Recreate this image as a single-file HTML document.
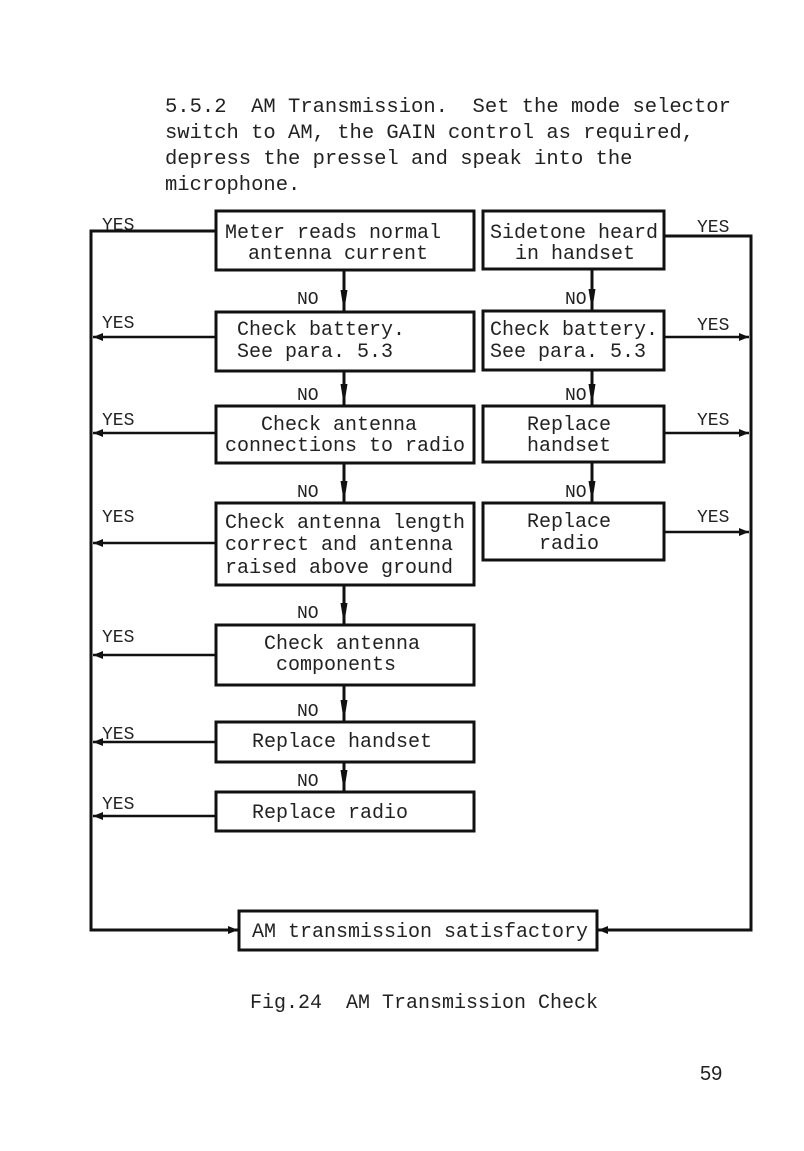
<!DOCTYPE html>
<html><head><meta charset="utf-8"><style>
html,body{margin:0;padding:0;background:#fff;}
svg{display:block}
text{font-family:"Liberation Mono",monospace;fill:#222;white-space:pre;}
</style></head><body>
<svg width="804" height="1151" viewBox="0 0 804 1151" xmlns="http://www.w3.org/2000/svg" xml:space="preserve">
<defs>
<marker id="a" markerWidth="10" markerHeight="8" refX="10" refY="4" orient="auto" markerUnits="userSpaceOnUse">
<path d="M0,0 L10,4 L0,8 Z" fill="#111"/></marker>
<marker id="d" markerWidth="22" markerHeight="8" refX="22" refY="4" orient="auto" markerUnits="userSpaceOnUse">
<path d="M0,0.5 L22,4 L0,7.5 Z" fill="#111"/></marker>
</defs>
<g font-size="20.5">
<text x="165" y="112">5.5.2  AM Transmission.  Set the mode selector</text>
<text x="165" y="138">switch to AM, the GAIN control as required,</text>
<text x="165" y="164">depress the pressel and speak into the</text>
<text x="165" y="190">microphone.</text>
</g>
<g fill="none" stroke="#111" stroke-width="3">
<rect x="216" y="211" width="258" height="59"/>
<rect x="216" y="312" width="258" height="59"/>
<rect x="216" y="406" width="258" height="57"/>
<rect x="216" y="503" width="258" height="82"/>
<rect x="216" y="625" width="258" height="60"/>
<rect x="216" y="722" width="258" height="40"/>
<rect x="216" y="792" width="258" height="39"/>
<rect x="483" y="211" width="181" height="58"/>
<rect x="483" y="311" width="181" height="59"/>
<rect x="483" y="406" width="181" height="56"/>
<rect x="483" y="503" width="181" height="57"/>
<rect x="239" y="911" width="358" height="39"/>
</g>
<g stroke="#111" stroke-width="3" fill="none">
<polyline points="216,231 91,231 91,930 238,930" marker-end="url(#a)"/>
<polyline points="664,236 751,236 751,930 598,930" marker-end="url(#a)"/>
<line x1="216" y1="337" x2="93" y2="337" marker-end="url(#a)" stroke-width="2.5"/>
<line x1="216" y1="433" x2="93" y2="433" marker-end="url(#a)" stroke-width="2.5"/>
<line x1="216" y1="543" x2="93" y2="543" marker-end="url(#a)" stroke-width="2.5"/>
<line x1="216" y1="655" x2="93" y2="655" marker-end="url(#a)" stroke-width="2.5"/>
<line x1="216" y1="742" x2="93" y2="742" marker-end="url(#a)" stroke-width="2.5"/>
<line x1="216" y1="816" x2="93" y2="816" marker-end="url(#a)" stroke-width="2.5"/>
<line x1="664" y1="337" x2="749" y2="337" marker-end="url(#a)" stroke-width="2.5"/>
<line x1="664" y1="433" x2="749" y2="433" marker-end="url(#a)" stroke-width="2.5"/>
<line x1="664" y1="532" x2="749" y2="532" marker-end="url(#a)" stroke-width="2.5"/>
<line x1="344" y1="270" x2="344" y2="312" marker-end="url(#d)"/>
<line x1="344" y1="371" x2="344" y2="406" marker-end="url(#d)"/>
<line x1="344" y1="463" x2="344" y2="503" marker-end="url(#d)"/>
<line x1="344" y1="585" x2="344" y2="625" marker-end="url(#d)"/>
<line x1="344" y1="685" x2="344" y2="722" marker-end="url(#d)"/>
<line x1="344" y1="762" x2="344" y2="792" marker-end="url(#d)"/>
<line x1="592" y1="269" x2="592" y2="311" marker-end="url(#d)"/>
<line x1="592" y1="370" x2="592" y2="406" marker-end="url(#d)"/>
<line x1="592" y1="462" x2="592" y2="503" marker-end="url(#d)"/>
</g>
<g font-size="20">
<text x="225" y="238">Meter reads normal</text>
<text x="248" y="259">antenna current</text>
<text x="237" y="335">Check battery.</text>
<text x="237" y="357">See para. 5.3</text>
<text x="261" y="430">Check antenna</text>
<text x="225" y="451">connections to radio</text>
<text x="225" y="528">Check antenna length</text>
<text x="225" y="550">correct and antenna</text>
<text x="225" y="573">raised above ground</text>
<text x="264" y="649">Check antenna</text>
<text x="276" y="670">components</text>
<text x="252" y="747">Replace handset</text>
<text x="252" y="818">Replace radio</text>
<text x="490" y="238">Sidetone heard</text>
<text x="515" y="259">in handset</text>
<text x="490" y="335">Check battery.</text>
<text x="490" y="357">See para. 5.3</text>
<text x="527" y="430">Replace</text>
<text x="527" y="451">handset</text>
<text x="527" y="527">Replace</text>
<text x="539" y="549">radio</text>
<text x="252" y="937">AM transmission satisfactory</text>
</g>
<g font-size="18" style="font-family:'Liberation Mono',monospace">
<text x="102" y="230">YES</text>
<text x="102" y="328">YES</text>
<text x="102" y="425">YES</text>
<text x="102" y="522">YES</text>
<text x="102" y="642">YES</text>
<text x="102" y="739">YES</text>
<text x="102" y="809">YES</text>
<text x="697" y="232">YES</text>
<text x="697" y="330">YES</text>
<text x="697" y="425">YES</text>
<text x="697" y="522">YES</text>
<text x="297" y="304">NO</text>
<text x="297" y="400">NO</text>
<text x="297" y="497">NO</text>
<text x="297" y="618">NO</text>
<text x="297" y="716">NO</text>
<text x="297" y="786">NO</text>
<text x="565" y="304">NO</text>
<text x="565" y="400">NO</text>
<text x="565" y="497">NO</text>
</g>
<text x="250" y="1008" font-size="20">Fig.24  AM Transmission Check</text>
<text x="700" y="1080" font-size="20" style="font-family:'Liberation Sans',sans-serif">59</text>
</svg>
</body></html>
